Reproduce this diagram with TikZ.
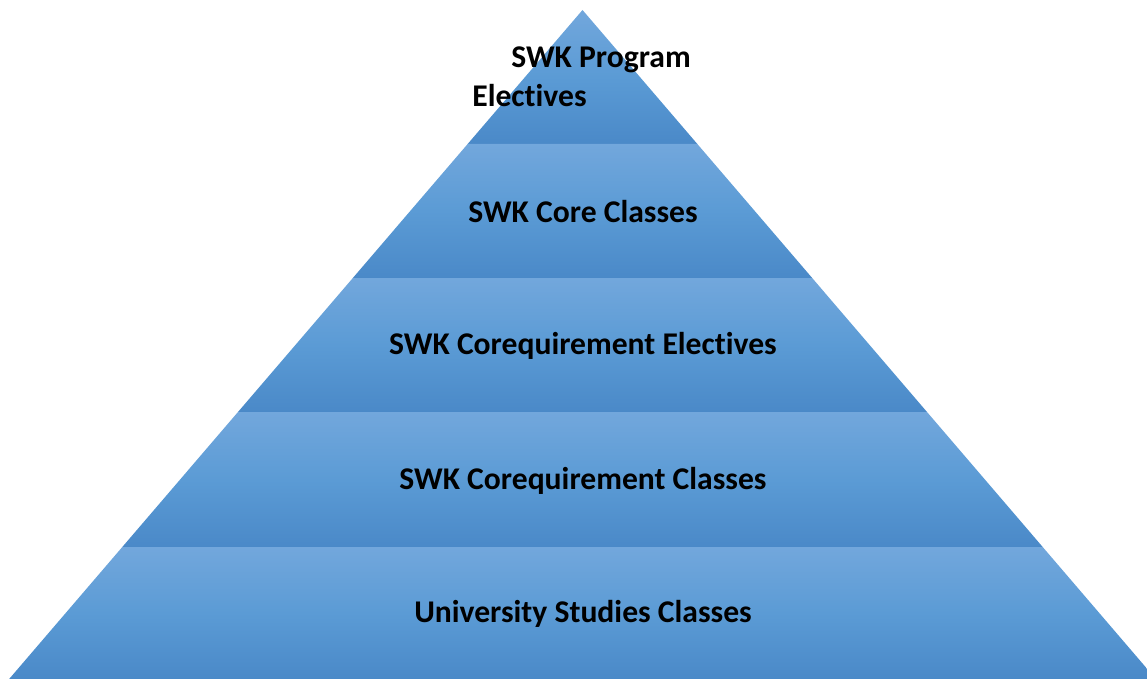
\documentclass[tikz,border=0pt]{standalone}
\usepackage{fontspec}
\setmainfont{Carlito}[Ligatures=NoCommon]
\usetikzlibrary{positioning}

\definecolor{bandtop}{HTML}{72A7DC}
\definecolor{bandmid}{HTML}{5B9BD5}
\definecolor{bandbot}{HTML}{4A89C8}

\tikzset{
  band/.style={top color=bandtop,bottom color=bandbot,middle color=bandmid,draw=none},
  lbl/.style={font=\fontsize{18}{21}\selectfont\bfseries,text=black,inner sep=0pt}
}

\begin{document}
\begin{tikzpicture}[x=0.02cm,y=-0.02cm]
				\useasboundingbox (0,0) rectangle (1147,679);
				\begin{scope}
				\clip (0,0) rectangle (1147,679);
				% the five layers, top to bottom
				\foreach \ya/\yb in {10/144,144/278,278/412,412/547,547/679}{
					\pgfmathsetmacro{\wa}{0.857*(\ya-10)}
					\pgfmathsetmacro{\wb}{0.857*(\yb-10)}
					\shade[band] (582.5-\wa,\ya) -- (582.5+\wa,\ya) -- (582.5+\wb,\yb) -- (582.5-\wb,\yb) -- cycle;
				}
				\end{scope}
				
				\node[lbl,anchor=west] (top1) at (511,60) {SWK Program};
				\node[lbl,anchor=west] (top2) at (472,96) {Electives};
				\node[lbl] (core) at (583,212) {SWK Core Classes};
				\node[lbl] (coel) at (583,346) {SWK Corequirement Electives};
				\node[lbl] (cocl) at (583,481) {SWK Corequirement Classes};
				\node[lbl] (univ) at (583,614) {University Studies Classes};
				
\end{tikzpicture}
\end{document}
